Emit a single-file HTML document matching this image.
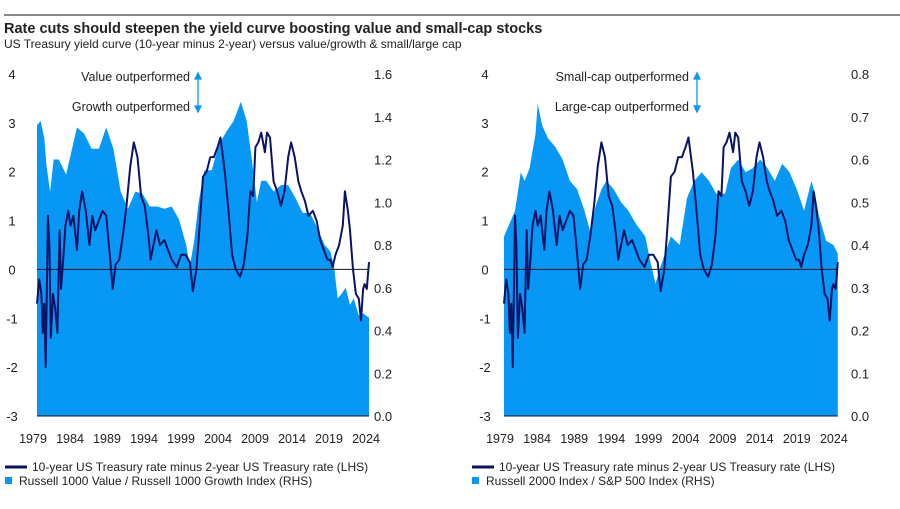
<!DOCTYPE html>
<html><head><meta charset="utf-8"><style>
body{margin:0;background:#fff;font-family:"Liberation Sans",sans-serif;}
svg text{font-family:"Liberation Sans",sans-serif;fill:#222;}
</style></head><body>
<svg id="c" width="900" height="504" xmlns="http://www.w3.org/2000/svg">
<line x1="4" y1="15" x2="900" y2="15" stroke="#111" stroke-width="1"/>
<text x="4" y="33" font-size="14.5" font-weight="bold" fill="#111">Rate cuts should steepen the yield curve boosting value and small-cap stocks</text>
<text x="4" y="48" font-size="12">US Treasury yield curve (10-year minus 2-year) versus value/growth &amp; small/large cap</text>
<g id="legend">
<line x1="5" y1="467" x2="27" y2="467" stroke="#0b1366" stroke-width="3"/>
<text x="32" y="471" font-size="12">10-year US Treasury rate minus 2-year US Treasury rate (LHS)</text>
<rect x="5" y="477" width="7" height="7" fill="#0798f6"/>
<text x="19" y="485" font-size="12">Russell 1000 Value / Russell 1000 Growth Index (RHS)</text>
<line x1="472" y1="467" x2="494" y2="467" stroke="#0b1366" stroke-width="3"/>
<text x="499" y="471" font-size="12">10-year US Treasury rate minus 2-year US Treasury rate (LHS)</text>
<rect x="472" y="477" width="7" height="7" fill="#0798f6"/>
<text x="486" y="485" font-size="12">Russell 2000 Index / S&amp;P 500 Index (RHS)</text>
</g>
</svg>
<script>
const curveYears=[1979.0,1979.3,1979.6,1979.8,1980.0,1980.2,1980.5,1980.7,1980.9,1981.2,1981.5,1981.8,1982.1,1982.3,1982.6,1982.9,1983.3,1983.6,1984.0,1984.5,1984.8,1985.2,1985.7,1986.2,1986.6,1987.0,1987.5,1988.0,1988.5,1989.0,1989.4,1989.8,1990.3,1990.8,1991.3,1991.8,1992.3,1992.8,1993.3,1993.8,1994.3,1994.6,1995.0,1995.4,1995.9,1996.5,1997.0,1997.5,1998.2,1998.8,1999.4,2000.0,2000.4,2000.9,2001.3,2001.8,2002.3,2002.8,2003.3,2003.8,2004.2,2004.8,2005.3,2005.8,2006.3,2006.9,2007.4,2007.9,2008.3,2008.7,2009.0,2009.4,2009.8,2010.3,2010.6,2011.0,2011.5,2012.0,2012.5,2013.0,2013.5,2013.9,2014.4,2014.9,2015.3,2015.8,2016.3,2016.9,2017.4,2017.9,2018.4,2018.9,2019.3,2019.6,2020.0,2020.5,2021.0,2021.3,2021.7,2022.0,2022.4,2022.8,2023.2,2023.5,2023.8,2024.0,2024.3,2024.6];
const curveValues=[-0.7,-0.2,-0.5,-1.3,-0.7,-2.0,1.1,0.5,-1.4,-0.5,-0.8,-1.3,0.8,-0.4,0.2,0.9,1.2,0.9,1.1,0.4,1.2,1.6,1.2,0.5,1.1,0.8,1.0,1.2,1.1,0.3,-0.4,0.1,0.2,0.7,1.3,2.1,2.6,2.3,1.5,1.3,0.7,0.2,0.5,0.8,0.5,0.6,0.4,0.2,0.05,0.3,0.3,0.15,-0.45,0.0,0.8,1.9,2.0,2.3,2.3,2.5,2.7,2.0,1.2,0.3,0.0,-0.15,0.1,0.7,1.6,1.5,2.5,2.6,2.8,2.4,2.8,2.7,1.8,1.6,1.3,1.6,2.3,2.6,2.3,1.8,1.6,1.4,1.1,1.2,1.0,0.6,0.4,0.2,0.2,0.05,0.3,0.5,0.9,1.6,1.2,0.8,0.0,-0.5,-0.6,-1.05,-0.4,-0.3,-0.4,0.15];
const vgYears=[1979.0,1979.5,1980.0,1980.3,1980.8,1981.3,1982.0,1983.0,1984.5,1985.5,1986.5,1987.5,1988.5,1989.5,1990.5,1991.5,1992.5,1993.5,1994.5,1995.5,1996.5,1997.5,1998.5,1999.5,2000.0,2000.6,2001.2,2002.0,2003.0,2004.0,2005.0,2006.0,2007.0,2007.8,2008.5,2009.2,2009.8,2010.5,2011.5,2012.5,2013.5,2014.5,2015.5,2016.5,2017.5,2018.5,2019.3,2019.8,2020.3,2020.8,2021.4,2022.0,2022.5,2023.2,2023.8,2024.6];
const vgValues=[1.36,1.38,1.3,1.17,1.05,1.2,1.2,1.13,1.35,1.32,1.25,1.25,1.35,1.25,1.05,0.97,1.05,1.04,0.98,0.98,0.97,0.98,0.92,0.8,0.7,0.82,1.0,1.15,1.15,1.27,1.33,1.38,1.47,1.38,1.2,1.0,1.1,1.1,1.05,1.08,1.08,1.02,0.95,0.95,0.88,0.8,0.77,0.7,0.55,0.57,0.6,0.52,0.55,0.47,0.48,0.46];
const slYears=[1979.0,1979.5,1980.0,1980.5,1981.3,1981.8,1982.5,1983.3,1983.6,1984.2,1985.0,1986.0,1987.0,1988.0,1989.0,1990.0,1990.8,1991.5,1992.3,1993.0,1994.0,1995.0,1996.0,1997.0,1998.3,1999.0,1999.7,2000.4,2001.0,2001.8,2003.0,2004.0,2005.0,2006.0,2007.0,2008.0,2009.2,2010.0,2011.0,2012.0,2013.0,2014.0,2015.0,2016.0,2017.0,2018.0,2019.0,2020.0,2021.0,2021.5,2022.0,2023.0,2024.0,2024.6];
const slValues=[0.42,0.44,0.46,0.48,0.57,0.55,0.58,0.66,0.73,0.68,0.65,0.63,0.6,0.55,0.53,0.48,0.43,0.49,0.53,0.55,0.53,0.5,0.48,0.45,0.42,0.36,0.31,0.35,0.38,0.42,0.4,0.51,0.55,0.57,0.55,0.52,0.52,0.58,0.6,0.57,0.58,0.6,0.58,0.55,0.59,0.57,0.53,0.48,0.55,0.52,0.47,0.41,0.4,0.38];
const lhsTicks=[4,3,2,1,0,-1,-2,-3];
const rhsTicksA=[1.6,1.4,1.2,1.0,0.8,0.6,0.4,0.2,0.0];
const rhsTicksB=[0.8,0.7,0.6,0.5,0.4,0.3,0.2,0.1,0.0];
const xTicks=[1979,1984,1989,1994,1999,2004,2009,2014,2019,2024];

const NS='http://www.w3.org/2000/svg';
const svg=document.getElementById('c');
function mk(tag,attrs,parent){const e=document.createElementNS(NS,tag);for(const k in attrs)e.setAttribute(k,attrs[k]);(parent||svg).appendChild(e);return e;}

function panel(cfg){
  const g=mk('g',{});
  
  
  const top=74,bot=416;
  const x=y=>cfg.x0+(y-1979)*cfg.xs;
  const xl=y=>cfg.lx0+(y-1979)*cfg.lxs;
  const yl=v=>bot-(v+3)/7*(bot-top);
  const yr=v=>bot-v/cfg.rmax*(bot-top);
  let d='M'+x(cfg.aYears[0])+','+bot;
  cfg.aYears.forEach((yy,i)=>{d+=' L'+x(yy).toFixed(1)+','+yr(cfg.aValues[i]).toFixed(1);});
  d+=' L'+x(cfg.aYears[cfg.aYears.length-1])+','+bot+' Z';
  const a=mk('path',{d:d,fill:'#0798f6'},g);
  
  
  const z=mk('line',{x1:x(1979),x2:x(2024.6),y1:yl(0),y2:yl(0),stroke:'#111','stroke-width':1},g);
  
  
  const b=mk('line',{x1:x(1979),x2:x(2024.6),y1:bot,y2:bot,stroke:'#111','stroke-width':1},g);
  
  
  const pts=curveYears.map((yy,i)=>x(yy).toFixed(1)+','+yl(curveValues[i]).toFixed(1)).join(' ');
  const l=mk('polyline',{points:pts,fill:'none',stroke:'#0b1366','stroke-width':2,'stroke-linejoin':'round'},g);
  
  
  lhsTicks.forEach(v=>{const t=mk('text',{x:cfg.lx,y:yl(v)+5,'font-size':13,'text-anchor':'middle'},g);t.textContent=String(v);
    
    });
  cfg.rTicks.forEach(v=>{const t=mk('text',{x:cfg.rx,y:yr(v)+5,'font-size':13},g);t.textContent=v.toFixed(1);
    
    });
  xTicks.forEach(v=>{const t=mk('text',{x:xl(v),y:443,'font-size':12.5,'text-anchor':'middle'},g);t.textContent=String(v);
    
    });
  const t1=mk('text',{x:cfg.ax-8,y:81,'font-size':12.5,'text-anchor':'end'},g);t1.textContent=cfg.up;
  
  
  const t2=mk('text',{x:cfg.ax-8,y:111,'font-size':12.5,'text-anchor':'end'},g);t2.textContent=cfg.down;
  
  
  const ar=mk('path',{d:`M${cfg.ax},76 L${cfg.ax},109 M${cfg.ax-3},79 L${cfg.ax},73 L${cfg.ax+3},79 Z M${cfg.ax-3},106 L${cfg.ax},112 L${cfg.ax+3},106 Z`,stroke:'#0798f6','stroke-width':1.3,fill:'#0798f6'},g);
  
  
}
panel({name:'left-panel',x0:37,xs:7.28,lx0:33,lxs:7.4,rmax:1.6,aYears:vgYears,aValues:vgValues,areaName:'value-growth-area',lx:12,rx:374,rTicks:rhsTicksA,ax:198,up:'Value outperformed',down:'Growth outperformed'});
panel({name:'right-panel',x0:504,xs:7.32,lx0:500,lxs:7.42,rmax:0.8,aYears:slYears,aValues:slValues,areaName:'small-large-area',lx:485,rx:851,rTicks:rhsTicksB,ax:697,up:'Small-cap outperformed',down:'Large-cap outperformed'});
</script>
</body></html>
